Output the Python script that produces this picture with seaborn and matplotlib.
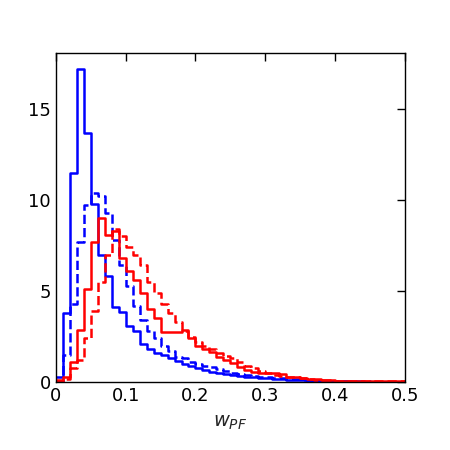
import numpy as np
import pandas as pd
import matplotlib
matplotlib.use("Agg")
import matplotlib.pyplot as plt
import seaborn as sns

# bin centres of w_PF (bin width 0.01, 0 to 0.5)
centers = np.round(np.arange(0.005, 0.5, 0.01), 3)

# density per bin
blue_solid = [0.25, 3.8, 11.5, 17.2, 13.7, 9.8, 7.0, 5.8, 4.1, 3.85,
              3.05, 2.8, 2.1, 1.8, 1.6, 1.5, 1.3, 1.15, 1.0, 0.9,
              0.75, 0.65, 0.55, 0.5, 0.45, 0.4, 0.33, 0.3, 0.25, 0.22,
              0.2, 0.17, 0.15, 0.12, 0.1, 0.09, 0.08, 0.07, 0.06, 0.05,
              0.05, 0.04, 0.04, 0.03, 0.03, 0.03, 0.02, 0.02, 0.02, 0.02]
blue_dashed = [0.05, 1.5, 4.3, 7.7, 9.7, 10.4, 10.2, 9.3, 7.8, 6.4,
               5.3, 4.2, 3.4, 2.8, 2.4, 2.0, 1.7, 1.4, 1.3, 1.1,
               1.0, 0.9, 0.8, 0.7, 0.6, 0.5, 0.45, 0.4, 0.35, 0.3,
               0.25, 0.22, 0.2, 0.17, 0.15, 0.12, 0.1, 0.09, 0.08, 0.07,
               0.06, 0.05, 0.05, 0.04, 0.04, 0.03, 0.03, 0.02, 0.02, 0.02]
red_solid = [0.1, 0.3, 1.1, 2.85, 5.1, 7.7, 9.0, 8.1, 8.3, 6.8,
             6.1, 5.6, 4.9, 4.0, 3.5, 2.75, 2.75, 2.75, 2.85, 2.4,
             2.0, 1.8, 1.65, 1.4, 1.2, 1.03, 0.8, 0.66, 0.57, 0.5,
             0.5, 0.5, 0.45, 0.3, 0.25, 0.2, 0.17, 0.15, 0.12, 0.1,
             0.08, 0.07, 0.07, 0.06, 0.06, 0.05, 0.05, 0.05, 0.04, 0.04]
red_dashed = [0.02, 0.15, 0.75, 1.2, 2.4, 3.9, 5.5, 7.0, 8.4, 8.0,
              7.4, 7.0, 6.4, 5.5, 4.9, 4.3, 3.8, 3.3, 2.8, 2.5,
              2.2, 2.0, 1.8, 1.6, 1.45, 1.3, 1.1, 0.9, 0.75, 0.6,
              0.5, 0.4, 0.35, 0.3, 0.25, 0.2, 0.17, 0.14, 0.12, 0.1,
              0.08, 0.07, 0.06, 0.06, 0.05, 0.05, 0.04, 0.04, 0.04, 0.04]

series = [
    (blue_solid, "blue", "-"),
    (blue_dashed, "blue", "--"),
    (red_solid, "red", "-"),
    (red_dashed, "red", "--"),
]

sns.set_style("white")
plt.rcParams["font.family"] = ["DejaVu Sans"]

fig = plt.figure(figsize=(4.5, 4.5), dpi=100)
ax = fig.add_axes([0.124, 0.151, 0.776, 0.731])

for vals, col, ls in series:
    df = pd.DataFrame({"w": centers, "dens": vals})
    sns.histplot(data=df, x="w", weights="dens", binwidth=0.01,
                 binrange=(0, 0.5), element="step", fill=False,
                 color=col, linestyle=ls, linewidth=1.8, ax=ax)

ax.set_xlim(0, 0.5)
ax.set_ylim(0, 18.06)
ax.set_xticks([0, 0.1, 0.2, 0.3, 0.4, 0.5])
ax.set_xticklabels(["0", "0.1", "0.2", "0.3", "0.4", "0.5"])
ax.set_yticks([0, 5, 10, 15])
ax.set_ylabel("")
ax.set_xlabel("$w_{PF}$", fontsize=14, labelpad=6)
ax.tick_params(direction="in", top=True, right=True, length=6, width=1,
               labelsize=13, colors="black")
for s in ax.spines.values():
    s.set_color("black")
    s.set_linewidth(1)

fig.savefig("out.png", dpi=100)
